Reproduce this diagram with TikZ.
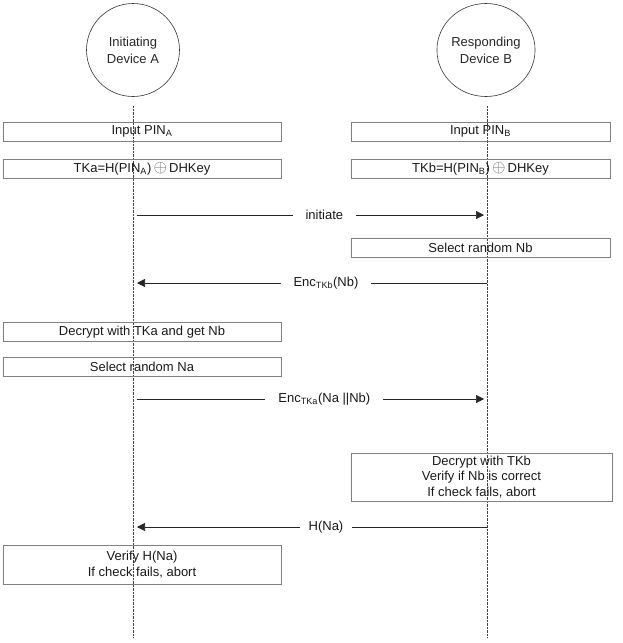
\documentclass[tikz,border=0pt]{standalone}
\usepackage{fontspec}
\setmainfont{Liberation Sans}
\usetikzlibrary{arrows.meta,shapes.geometric}
\tikzset{
  dev/.style={draw=black!80, line width=0.6pt, ellipse, inner sep=0pt, align=center,
    text=black!85, font=\fontsize{13}{17}\selectfont},
  actbox/.style={draw=black!50, line width=0.6pt, minimum height=19pt, inner sep=0pt,
    align=center, text=black!90, font=\fontsize{13}{15.5}\selectfont},
  msg/.style={-{Triangle[length=8pt,width=8pt]}, black!85, line width=0.6pt},
  lbl/.style={fill=white, inner xsep=13pt, inner ysep=1pt, text=black!90,
    font=\fontsize{13}{15}\selectfont},
  life/.style={densely dotted, black!75}
}
\newcommand{\xorsym}{{\color{black!60}\fontsize{17}{17}\selectfont$\oplus$}}
\begin{document}
\begin{tikzpicture}[x=1pt,y=-1pt]
\useasboundingbox (0,0) rectangle (623,643);
% the two devices
\node[dev, minimum width=93pt, minimum height=93pt] (devA) at (133,50) {Initiating\\Device A};
\node[dev, minimum width=88pt, minimum height=93pt] (devB) at (486,50) {Responding\\Device B};
% lifelines
\coordinate (atop) at (133,106);
\coordinate (abot) at (133,638);
\coordinate (btop) at (487,106);
\coordinate (bbot) at (487,638);
\draw[life] (atop) -- (abot);
\draw[life] (btop) -- (bbot);
% steps on each side
\node[actbox, minimum width=278pt] (pinA) at (142,131.5) {Input PIN\textsubscript{A}};
\node[actbox, minimum width=259pt] (pinB) at (480.5,131.5) {Input PIN\textsubscript{B}};
\node[actbox, minimum width=278pt] (tka) at (142,168.5) {TKa=H(PIN\textsubscript{A})\,\xorsym\,DHKey};
\node[actbox, minimum width=259pt] (tkb) at (480.5,168.5) {TKb=H(PIN\textsubscript{B})\,\xorsym\,DHKey};
\node[actbox, minimum width=259pt] (selnb) at (480.5,247.5) {Select random Nb};
\node[actbox, minimum width=278pt] (deca) at (142,332) {Decrypt with TKa and get Nb};
\node[actbox, minimum width=278pt] (selna) at (142,366.5) {Select random Na};
\node[actbox, minimum width=261pt, minimum height=48pt] (decb) at (481.5,477)
  {Decrypt with TKb\\Verify if Nb is correct\\If check fails, abort};
\node[actbox, minimum width=278pt, minimum height=39pt] (verA) at (142,564.5)
  {Verify H(Na)\\If check fails, abort};
% messages
\coordinate (m1a) at (137,215);  \coordinate (m1b) at (484,215);
\coordinate (m2a) at (137,283);  \coordinate (m2b) at (487,283);
\coordinate (m3a) at (137,399);  \coordinate (m3b) at (484,399);
\coordinate (m4a) at (137,527);  \coordinate (m4b) at (487,527);
\draw[msg] (m1a) -- node[lbl, pos=0.54] (l1) {initiate} (m1b);
\draw[msg] (m2b) -- node[lbl, pos=0.46] (l2) {Enc\textsubscript{TKb}(Nb)} (m2a);
\draw[msg] (m3a) -- node[lbl, pos=0.54] (l3) {Enc\textsubscript{TKa}(Na ||Nb)} (m3b);
\draw[msg] (m4b) -- node[lbl, pos=0.46, inner xsep=9pt] (l4) {H(Na)} (m4a);
\end{tikzpicture}
\end{document}
